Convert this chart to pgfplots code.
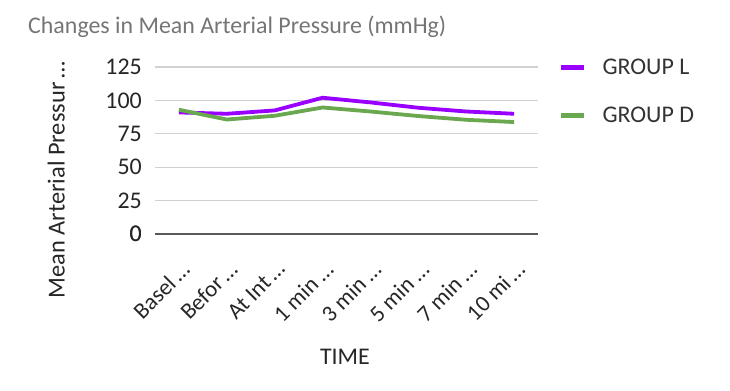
\documentclass[border=0pt]{standalone}
\usepackage{pgfplots}
\pgfplotsset{compat=1.18}
\usepackage{fontspec}
\setmainfont{Carlito}
\definecolor{grpL}{HTML}{9900FF}
\definecolor{grpD}{HTML}{6AA84F}
\definecolor{titlegray}{HTML}{757575}
\begin{document}
\begin{tikzpicture}[x=1bp,y=1bp]
\useasboundingbox (0,0) rectangle (730,-390);
\node[anchor=base west, inner sep=0pt, text=titlegray, font=\fontsize{24}{28}\selectfont] at (28,-33) {Changes in Mean Arterial Pressure (mmHg)};
\begin{axis}[
  at={(155bp,-234bp)}, anchor=south west,
  scale only axis, width=383bp, height=167bp,
  xmin=-0.5, xmax=7.5, ymin=0, ymax=125,
  ytick={0,25,50,75,100,125},
  xtick={0,...,7},
  xticklabels={Basel\,\dots, Befor\,\dots, At Int\,\dots, 1 min \dots, 3 min \dots, 5 min \dots, 7 min \dots, 10 mi\,\dots},
  x tick label style={xshift=1bp, yshift=-26bp, rotate=45, anchor=north east, font=\fontsize{23}{25}\selectfont, text=black!85, inner sep=0pt},
  y tick label style={font=\fontsize{24}{26}\selectfont, text=black!85, inner sep=0pt, xshift=-13bp},
  /pgf/number format/assume math mode=true,
  ymajorgrids, grid style={draw=black!18, line width=1.3bp},
  axis line style={draw=none},
  axis x line*=bottom, axis y line*=left,
  extra y ticks={0}, extra y tick style={grid style={draw=black!65, line width=1.5bp}},
  major tick length=0pt,
  xlabel={TIME}, xlabel style={font=\fontsize{24}{26}\selectfont, text=black!85, at={(axis description cs:0.496,-0.737)}, anchor=center},
  ylabel={Mean Arterial Pressur\,\dots}, ylabel style={font=\fontsize{24.5}{26}\selectfont, text=black!85, at={(axis description cs:-0.258,0.323)}, anchor=center},
  clip=false,
  legend style={at={(axis description cs:1.053,1.06)}, anchor=north west, draw=none, fill=none, font=\fontsize{24}{26}\selectfont, text=black!80, row sep=27bp, inner sep=0pt},
  legend cell align=left,
  legend image code/.code={\draw[#1, line width=5bp] (0bp,0bp) -- (23bp,0bp);},
]
\addplot[grpL, line width=3.8bp] coordinates {(0,91) (1,90) (2,92.5) (3,102) (4,98.5) (5,94.5) (6,91.7) (7,90)};
\addlegendentry{\hspace{14bp}GROUP L}
\addplot[grpD, line width=3.8bp] coordinates {(0,93) (1,85.7) (2,88.5) (3,94.7) (4,91.7) (5,88.3) (6,85.5) (7,83.8)};
\addlegendentry{\hspace{14bp}GROUP D}
\end{axis}
\end{tikzpicture}
\end{document}
